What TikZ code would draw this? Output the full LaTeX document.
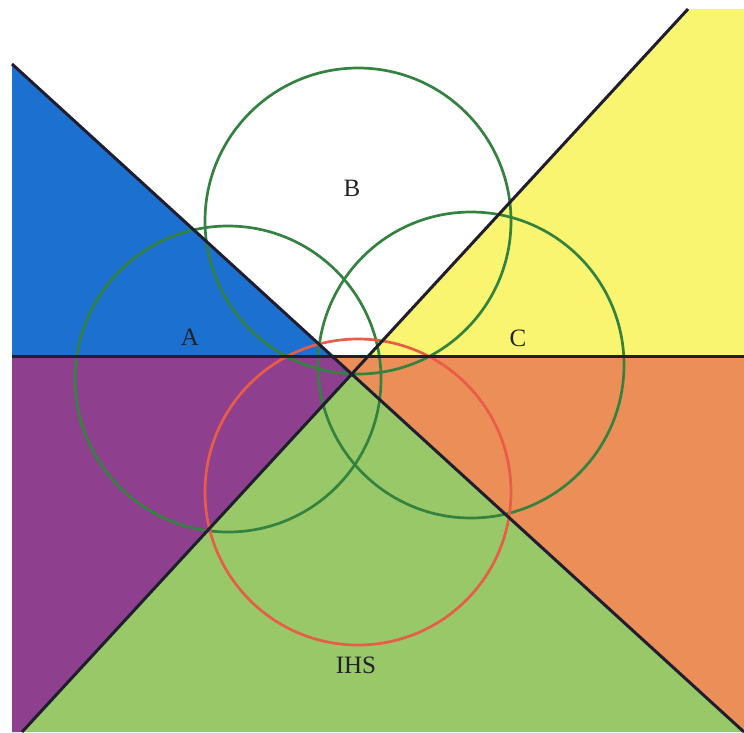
\documentclass[tikz,border=0pt]{standalone}
\usepackage{fontspec}
\setmainfont{Liberation Serif}
\definecolor{cblue}{RGB}{28,112,208}
\definecolor{cyellow}{RGB}{250,245,112}
\definecolor{cpurple}{RGB}{142,64,142}
\definecolor{corange}{RGB}{236,142,88}
\definecolor{cgreen}{RGB}{152,200,104}
\definecolor{cline}{RGB}{30,30,48}
\definecolor{cring}{RGB}{52,130,64}
\definecolor{cred}{RGB}{232,92,72}
\definecolor{ctext}{RGB}{34,34,40}
\begin{document}
\begin{tikzpicture}[x=1pt,y=-1pt,
  divider/.style={draw=cline,line width=3pt},
  ring/.style={circle,draw=cring,line width=2.7pt,minimum size=306pt,inner sep=0pt},
  redring/.style={ring,draw=cred},
  lbl/.style={font=\fontsize{25}{28}\selectfont,text=ctext,inner sep=0pt}]
\useasboundingbox (0,0) rectangle (744,732);
% key points
\coordinate (TL) at (12,64);
\coordinate (BR) at (744,732);
\coordinate (TR) at (688,9);
\coordinate (BL) at (22,732);
\coordinate (HL) at (12,356);
\coordinate (HR) at (744,356);
\coordinate (X) at (353,373);
\coordinate (D1H) at (332,356);
\coordinate (D2H) at (369,356);
% colour fields
\fill[cblue] (TL) -- (D1H) -- (HL) -- cycle;
\fill[cyellow] (TR) -- (744,9) -- (HR) -- (D2H) -- cycle;
\fill[cpurple] (HL) -- (D1H) -- (X) -- (BL) -- (12,732) -- cycle;
\fill[corange] (D1H) -- (HR) -- (BR) -- (X) -- cycle;
\fill[cgreen] (X) -- (BR) -- (BL) -- cycle;
% circles
\node[ring] (cB) at (358,221) {};
\node[ring] (cA) at (228,379) {};
\node[ring] (cC) at (471,365) {};
\node[redring] (cI) at (358,492) {};
% dividing lines
\draw[divider] (HL) -- (HR);
\draw[divider] (TL) -- (BR);
\draw[divider] (TR) -- (BL);
% labels
\node[lbl] (lB) at (352,188) {B};
\node[lbl] (lA) at (190,337) {A};
\node[lbl] (lC) at (518,338) {C};
\node[lbl] (lI) at (356,665) {IHS};
\end{tikzpicture}
\end{document}
